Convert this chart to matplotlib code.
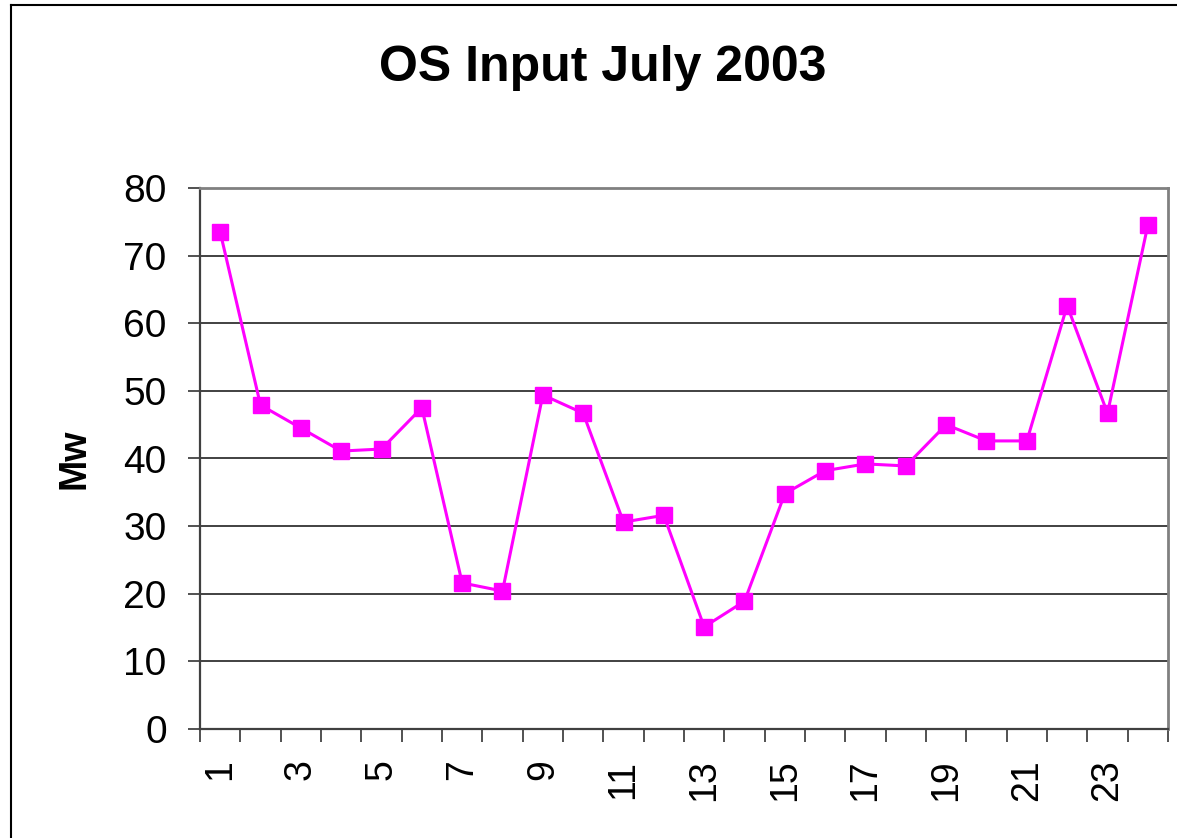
import matplotlib
matplotlib.use("Agg")
import matplotlib.pyplot as plt
from matplotlib.lines import Line2D
from matplotlib.ticker import FixedLocator, NullFormatter

plt.rcParams["font.family"] = ["Liberation Sans", "DejaVu Sans"]

# data
days = list(range(1, 25))
mw = [73.5, 47.9, 44.5, 41.1, 41.4, 47.5, 21.6, 20.4, 49.4, 46.7, 30.6, 31.6,
      15.1, 18.9, 34.8, 38.2, 39.2, 38.9, 45.0, 42.6, 42.6, 62.6, 46.7, 74.5]
y_ticks = [0, 10, 20, 30, 40, 50, 60, 70, 80]
x_labels = [str(d) if d % 2 == 1 else "" for d in days]

fig = plt.figure(figsize=(11.77, 8.38), dpi=100)
ax = fig.add_axes([200 / 1177, 1 - 729 / 838, 968 / 1177, 541 / 838])

# categories drawn at centres 0.5, 1.5, ...
xpos = [i + 0.5 for i in range(len(days))]
ax.plot(xpos, mw, color="#FF00FF", lw=2.2, marker="s", markersize=11,
        markeredgecolor="#FF00FF", zorder=3)

ax.set_xlim(0, len(days))
ax.set_ylim(0, 80)
ax.set_yticks(y_ticks)
ax.yaxis.grid(True, color="#333333", lw=1.3)
ax.set_axisbelow(True)

# tick marks on category boundaries, labels at category centres
ax.xaxis.set_major_locator(FixedLocator(list(range(len(days) + 1))))
ax.xaxis.set_major_formatter(NullFormatter())
ax.xaxis.set_minor_locator(FixedLocator(xpos))
ax.set_xticklabels(x_labels, minor=True, rotation=90, fontsize=27)
ax.tick_params(axis="x", which="major", direction="out", length=9,
               width=1.2, color="#333333")
ax.tick_params(axis="x", which="minor", length=0, pad=22)
ax.tick_params(axis="y", direction="out", length=9, width=1.2,
               color="#333333", labelsize=28, pad=15)

for side in ["top", "right"]:
    ax.spines[side].set_color("#808080")
    ax.spines[side].set_linewidth(2)
for side in ["left", "bottom"]:
    ax.spines[side].set_color("#404040")
    ax.spines[side].set_linewidth(1.6)

ax.set_ylabel("Mw", fontsize=27, fontweight="bold", labelpad=22)
fig.text(603 / 1177, 1 - 68 / 838, "OS Input July 2003", fontsize=36,
         fontweight="bold", ha="center", va="center")

# outer chart border
top = 1 - 5 / 838
left = 11 / 1177
fig.add_artist(Line2D([left, 1], [top, top], color="black", lw=1.5,
                      transform=fig.transFigure))
fig.add_artist(Line2D([left, left], [0, top], color="black", lw=1.5,
                      transform=fig.transFigure))

fig.savefig("out.png", dpi=100)
plt.close(fig)
